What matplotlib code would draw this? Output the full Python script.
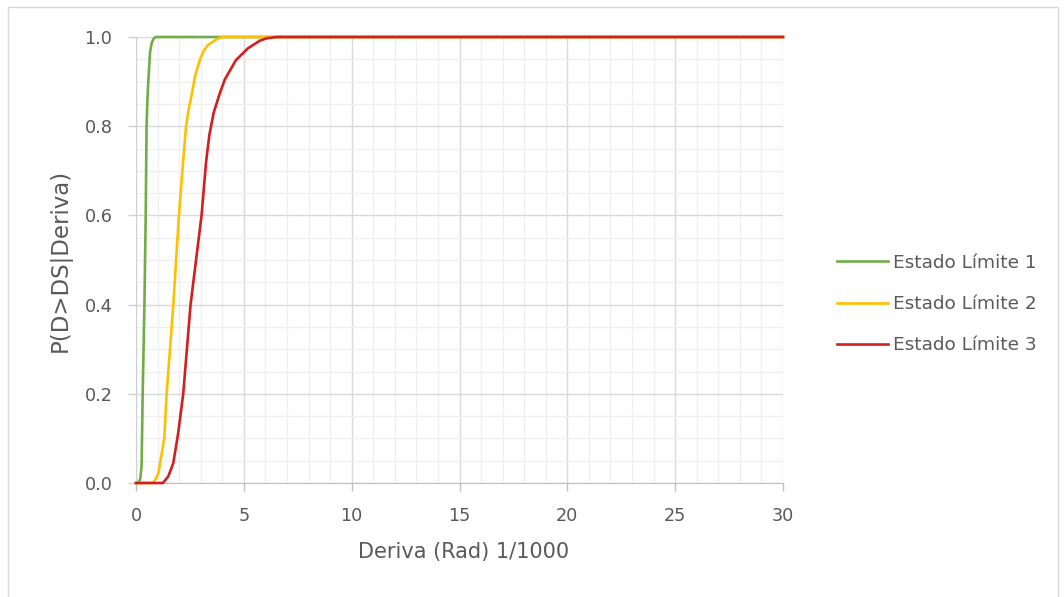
import matplotlib
matplotlib.use("Agg")
import matplotlib.pyplot as plt
from matplotlib.patches import Rectangle
from matplotlib.ticker import MultipleLocator, FormatStrFormatter

# Fragility curves: drift (rad/1000) vs. probability of exceeding each damage state
el1_drift = [0, 0.1, 0.2, 0.26, 0.31, 0.39, 0.45, 0.49, 0.53, 0.57, 0.65, 0.72, 0.8, 0.9, 30]
el1_prob = [0, 0, 0.01, 0.04, 0.2, 0.4, 0.6, 0.8, 0.86, 0.9, 0.965, 0.985, 0.995, 1.0, 1.0]

el2_drift = [0, 0.8, 1.03, 1.31, 1.42, 1.73, 1.99, 2.2, 2.32, 2.45, 2.58, 2.75, 2.97,
             3.15, 3.34, 3.74, 4.0, 30]
el2_prob = [0, 0, 0.02, 0.10, 0.2, 0.4, 0.6, 0.73, 0.8, 0.84, 0.87, 0.915, 0.95,
            0.97, 0.982, 0.995, 1.0, 1.0]

el3_drift = [0, 1.25, 1.5, 1.73, 1.95, 2.19, 2.53, 3.04, 3.25, 3.40, 3.6, 3.86, 4.12,
             4.63, 5.2, 5.75, 6.06, 6.5, 30]
el3_prob = [0, 0, 0.015, 0.045, 0.11, 0.2, 0.4, 0.6, 0.72, 0.78, 0.83, 0.87, 0.905,
            0.948, 0.975, 0.992, 0.997, 1.0, 1.0]

series_labels = ["Estado Límite 1", "Estado Límite 2", "Estado Límite 3"]
series_colors = ["#70AD47", "#FFC000", "#D41E1E"]

x_label = "Deriva (Rad) 1/1000"
y_label = "P(D>DS|Deriva)"

plt.rcParams["font.family"] = ["DejaVu Sans"]
text_color = "#595959"

fig = plt.figure(figsize=(10.64, 5.97), dpi=100)
W, H = 1064, 597

# light chart-area frame
fig.patches.append(Rectangle((8 / W, -0.05), (1058 - 8) / W, 1.05 - 7 / H,
                             transform=fig.transFigure, fill=False,
                             edgecolor="#D9D9D9", linewidth=1.0))

ax = fig.add_axes([136 / W, 1 - 483 / H, (783 - 136) / W, (483 - 37) / H])

for xs, ys, lab, col in zip([el1_drift, el2_drift, el3_drift],
                            [el1_prob, el2_prob, el3_prob],
                            series_labels, series_colors):
    ax.plot(xs, ys, color=col, linewidth=1.9, label=lab, clip_on=False,
            solid_joinstyle="round", zorder=3)

ax.set_xlim(0, 30)
ax.set_ylim(0, 1)
ax.xaxis.set_major_locator(MultipleLocator(5))
ax.xaxis.set_minor_locator(MultipleLocator(1))
ax.yaxis.set_major_locator(MultipleLocator(0.2))
ax.yaxis.set_minor_locator(MultipleLocator(0.05))
ax.yaxis.set_major_formatter(FormatStrFormatter("%.1f"))

ax.grid(which="major", color="#D9D9D9", linewidth=1.0, zorder=0)
ax.grid(which="minor", color="#EFEFEF", linewidth=0.9, zorder=0)
ax.set_axisbelow(True)

for s in ["top", "right"]:
    ax.spines[s].set_visible(False)
ax.spines["bottom"].set_color("#BFBFBF")
ax.spines["left"].set_color("#D0D0D0")

ax.tick_params(axis="x", which="major", length=6, width=1, color="#BFBFBF",
               labelsize=12.7, labelcolor=text_color, pad=11)
ax.tick_params(axis="y", which="major", length=6, width=1, color="#D0D0D0",
               labelsize=12.7, labelcolor=text_color, pad=11)
ax.tick_params(which="minor", length=0)

ax.set_xlabel(x_label, fontsize=15, color=text_color)
ax.xaxis.set_label_coords((464 - 136) / 647, (483 - 552) / 446)
ax.xaxis.label.set_va("center")
ax.set_ylabel(y_label, fontsize=16.5, color=text_color)
ax.yaxis.set_label_coords((60 - 136) / 647, (483 - 260) / 446)
ax.yaxis.label.set_va("center")

leg = ax.legend(loc="center left", bbox_to_anchor=(830 / W, 1 - 304 / H),
                bbox_transform=fig.transFigure, frameon=False,
                fontsize=13.3, handlelength=2.76, handletextpad=0.27,
                labelspacing=1.25, borderaxespad=0)
for t in leg.get_texts():
    t.set_color(text_color)

fig.savefig("out.png", dpi=100, facecolor="white")
